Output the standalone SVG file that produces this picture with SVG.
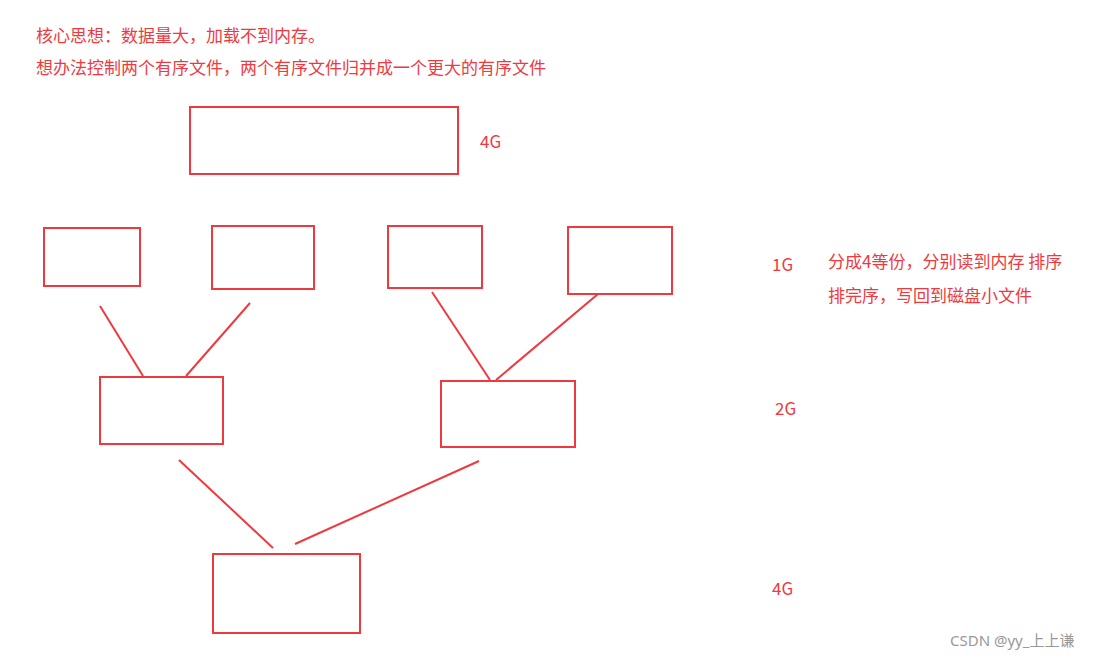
<svg xmlns="http://www.w3.org/2000/svg" width="1109" height="660" viewBox="0 0 1109 660">
<style>
.b{fill:none;stroke:#ee3a3f;stroke-width:2}
.t{fill:#ee3a3f;font-family:"Microsoft YaHei","Noto Sans CJK SC",sans-serif;font-size:17px}
.l{stroke:#ee3a3f;stroke-width:2}
</style>
<rect width="1109" height="660" fill="#fff"/>
<text class="t" x="36" y="42">核心思想：数据量大，加载不到内存。</text>
<text class="t" x="36" y="74">想办法控制两个有序文件，两个有序文件归并成一个更大的有序文件</text>
<g id="n1"><rect class="b" x="190" y="107" width="268" height="67"/></g>
<g id="n2"><rect class="b" x="44" y="228" width="96" height="58"/></g>
<g id="n3"><rect class="b" x="212" y="226" width="102" height="63"/></g>
<g id="n4"><rect class="b" x="388" y="226" width="94" height="62"/></g>
<g id="n5"><rect class="b" x="568" y="227" width="104" height="67"/></g>
<g id="n6"><rect class="b" x="100" y="377" width="123" height="67"/></g>
<g id="n7"><rect class="b" x="441" y="381" width="134" height="66"/></g>
<g id="n8"><rect class="b" x="213" y="554" width="147" height="79"/></g>
<g id="connectors">
<line class="l" x1="100" y1="306" x2="143" y2="376"/>
<line class="l" x1="250" y1="303" x2="186" y2="376"/>
<line class="l" x1="432" y1="292" x2="490" y2="380"/>
<line class="l" x1="598" y1="294" x2="496" y2="380"/>
<line class="l" x1="179" y1="460" x2="273" y2="548"/>
<line class="l" x1="479" y1="461" x2="295" y2="544"/>
</g>
<text class="t" x="480" y="148">4G</text>
<text class="t" x="772" y="271">1G</text>
<text class="t" x="828" y="268">分成4等份，分别读到内存 排序</text>
<text class="t" x="828" y="302">排完序，写回到磁盘小文件</text>
<text class="t" x="775" y="415">2G</text>
<text class="t" x="772" y="595">4G</text>
<text x="950" y="646" fill="#999" font-family="'Noto Sans','Noto Sans CJK SC',sans-serif" font-size="15">CSDN @yy_上上谦</text>
</svg>
